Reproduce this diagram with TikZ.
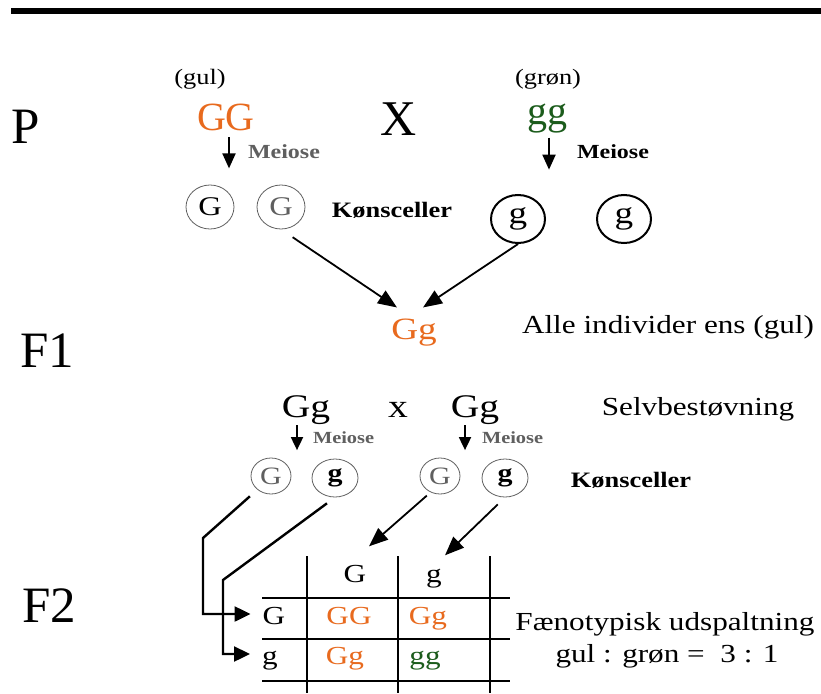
\documentclass[tikz,border=0pt]{standalone}
\usepackage{fontspec}
\setmainfont{Liberation Serif}
\newfontfamily\widefont[FakeStretch=1.2]{Liberation Serif}
\usepackage{tikz}
\usetikzlibrary{positioning,shapes.geometric,arrows.meta}
\definecolor{gulcol}{RGB}{232,106,30}
\definecolor{groencol}{RGB}{28,92,28}
\definecolor{rim}{RGB}{95,95,95}
\tikzset{
  % Specifications for style of nodes:
  base/.style = {
    inner sep=0pt,
    outer sep=0pt,
    anchor=base
  },
  generation/.style = {
    base,
    font=\fontsize{51}{51}\selectfont
  },
  parent/.style = {
    base,
    font=\fontsize{40}{40}\selectfont
  },
  colour/.style = {
    base,
    font=\widefont\fontsize{22}{22}\selectfont
  },
  hybrid/.style = {
    base,
    font=\widefont\fontsize{33}{33}\selectfont
  },
  note/.style = {
    base,
    font=\widefont\fontsize{26}{26}\selectfont
  },
  meiose/.style = {
    base,
    anchor=base west,
    font=\widefont\bfseries\fontsize{20}{20}\selectfont
  },
  smallmeiose/.style = {
    meiose,
    text=rim,
    font=\widefont\bfseries\fontsize{17}{17}\selectfont
  },
  gametes/.style = {
    base,
    anchor=center,
    font=\widefont\bfseries\fontsize{22}{22}\selectfont
  },
  % gamete cells
  gamete/.style = {
    ellipse,
    draw=rim,
    line width=0.8pt,
    inner sep=0pt,
    anchor=center
  },
  upG/.style = {
    gamete,
    minimum width=48pt,
    minimum height=44pt,
    font=\widefont\fontsize{27}{27}\selectfont
  },
  upg/.style = {
    gamete,
    draw=black,
    line width=2pt,
    minimum width=54pt,
    minimum height=48pt,
    font=\widefont\fontsize{31}{31}\selectfont
  },
  loG/.style = {
    gamete,
    text=rim,
    minimum width=40pt,
    minimum height=36pt,
    font=\widefont\fontsize{25}{25}\selectfont
  },
  log/.style = {
    gamete,
    minimum width=46pt,
    minimum height=38pt,
    font=\widefont\bfseries\fontsize{25}{25}\selectfont
  },
  cellbox/.style = {
    inner sep=0pt,
    anchor=center,
    text height=17pt,
    text depth=6pt,
    font=\widefont\fontsize{26}{26}\selectfont
  },
  % arrows
  meio/.style = {-{Triangle[width=13pt,length=15pt]}, line width=2pt},
  smallmeio/.style = {-{Triangle[width=12pt,length=13pt]}, line width=1.8pt},
  cross/.style = {-{Triangle[width=15pt,length=19pt]}, line width=1.8pt},
  route/.style = {-{Triangle[width=15pt,length=16pt]}, line width=2.4pt},
  grid/.style = {line width=2.6pt}
}

\begin{document}
\begin{tikzpicture}[x=1pt,y=-1pt]
    \useasboundingbox (0,0) rectangle (821,693);
    \fill (11,8) rectangle (821,14);

    % P generation
    \node[generation] (genP) at (26,143) {P};
    \node[colour] (gulTxt) at (200,84) {(gul)};
    \node[colour] (gronTxt) at (548,84) {(grøn)};
    \node[parent, text=gulcol] (GG) at (226,130) {GG};
    \node[generation, font=\fontsize{50}{50}\selectfont] (crossP) at (399,135) {X};
    \node[parent, text=groencol] (gg) at (547,124) {gg};
    \draw[meio] ([xshift=3pt,yshift=-7pt]GG.south) -- ++(0,31);
    \draw[meio] ([xshift=2pt,yshift=-5pt]gg.south) -- ++(0,32);
    \node[meiose, text=rim] (meioL) at (248,158) {Meiose};
    \node[meiose] (meioR) at (577,158) {Meiose};

    \node[upG] (upG1) at (210,207) {G};
    \node[upG, text=rim] (upG2) at (281,207) {G};
    \node[gametes] (kons1) at (392,210) {Kønsceller};
    \node[upg] (upg1) at (518,219) {g};
    \node[upg] (upg2) at (624,219) {g};

    % F1 generation
    \node[generation] (genF1) at (47,367) {F1};
    \node[hybrid, text=gulcol, font=\widefont\fontsize{31}{31}\selectfont] (f1Gg) at (414,339) {Gg};
    \node[note] (alle) at (668,333) {Alle individer ens (gul)};
    \draw[cross, shorten <=14pt] (upG2.south) -- ([xshift=-17pt,yshift=11pt]f1Gg.north);
    \draw[cross] (upg1.south) -- ([xshift=9pt,yshift=11pt]f1Gg.north);

    \node[hybrid] (selfA) at (306,417) {Gg};
    \node[hybrid] (selfX) at (398,417) {x};
    \node[hybrid] (selfB) at (475,417) {Gg};
    \node[note] (selv) at (698,415) {Selvbestøvning};
    \draw[smallmeio] ([xshift=-9pt,yshift=-1pt]selfA.south) -- ++(0,25);
    \draw[smallmeio] ([xshift=-10pt,yshift=-1pt]selfB.south) -- ++(0,25);
    \node[smallmeiose] (meioA) at (313,443) {Meiose};
    \node[smallmeiose] (meioB) at (482,443) {Meiose};

    \node[loG] (loG1) at (271,476) {G};
    \node[log] (log1) at (335,478) {g};
    \node[loG] (loG2) at (440,476) {G};
    \node[log] (log2) at (505,478) {g};
    \node[gametes] (kons2) at (631,480) {Kønsceller};

    % F2 generation
    \node[generation] (genF2) at (49,622) {F2};
    \foreach \x in {307,398,490}
      \draw[grid] (\x,556) -- (\x,693);
    \foreach \y in {598,639,681}
      \draw[grid] (262,\y) -- (510,\y);
    \node[cellbox] (colG) at (355,577) {G};
    \node[cellbox] (colg) at (434,577) {g};
    \node[cellbox] (rowG) at (274,619) {G};
    \node[cellbox] (rowg) at (270,659) {g};
    \node[cellbox, text=gulcol] (GGcell) at (349,619) {GG};
    \node[cellbox, text=gulcol] (Ggcell) at (428,619) {Gg};
    \node[cellbox, text=gulcol] (gGcell) at (345,659) {Gg};
    \node[cellbox, text=groencol] (ggcell) at (425,659) {gg};

    \coordinate (bendG) at (203,538);
    \coordinate (bendg) at (223,580);
    \draw[route, shorten <=10pt, shorten >=12pt] (loG1.225) -- (bendG) |- ([yshift=5pt]rowG.west);
    \draw[route, shorten <=10pt, shorten >=12pt] (log1.south) -- (bendg) |- ([yshift=5pt]rowg.west);
    \draw[cross, shorten <=5pt] (loG2.240) -- ([xshift=14pt,yshift=19pt]colG.north);
    \draw[cross, shorten <=10pt] (log2.south) -- ([xshift=11pt,yshift=10pt]colg.north);

    \node[note] (split1) at (665,630) {Fænotypisk udspaltning};
    \node[note] (split2) at (667,662) {gul : grøn = \ 3 : 1};
\end{tikzpicture}
\end{document}
